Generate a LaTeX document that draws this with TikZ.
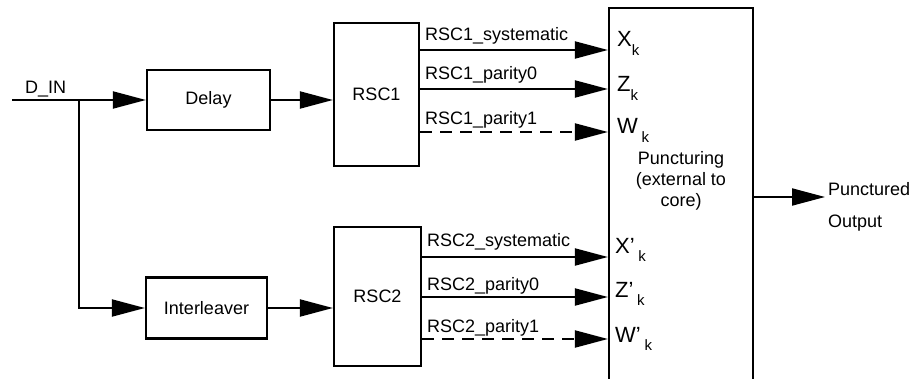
\documentclass[tikz,border=0pt]{standalone}
\usepackage{fontspec}
\setmainfont{Liberation Sans}
\usetikzlibrary{arrows.meta}
\newcommand{\subk}{\raisebox{-0.4em}{\fontsize{15}{15}\selectfont k}}
\begin{document}
\begin{tikzpicture}[x=1pt,y=-1pt,
  blk/.style={draw,line width=2.2pt,inner sep=0pt,font=\fontsize{18}{20}\selectfont},
  arr/.style={line width=2pt,-{Triangle[length=33pt,width=17pt]}},
  ln/.style={line width=2pt},
  dsh/.style={arr,dash pattern=on 12pt off 8pt},
  lbl/.style={anchor=base west,inner sep=0pt,font=\fontsize{18}{20}\selectfont},
  inl/.style={anchor=base west,inner sep=0pt,font=\fontsize{22}{24}\selectfont}]
\useasboundingbox (0,0) rectangle (920,379);
\clip (0,0) rectangle (920,379);
\node[blk,minimum width=123pt,minimum height=60pt] (delay) at (208.5,100) {Delay};
\node[blk,minimum width=121pt,minimum height=61pt] (inter) at (206.5,308) {Interleaver};
\node[blk,minimum width=85pt,minimum height=143pt] (rsc1) at (376.5,94.5) {RSC1};
\node[blk,minimum width=87pt,minimum height=139pt] (rsc2) at (377.5,296.5) {RSC2};
\node[blk,minimum width=144pt,minimum height=392pt] (punct) at (681,204) {};
\node[align=center,inner sep=0pt,font=\fontsize{18}{21}\selectfont] (ptext) at (681,181) {Puncturing\\(external to\\core)};
\coordinate (din) at (12,100);
\coordinate (j) at (79,100);
\node[lbl] (dinl) at (25,94) {D\_IN};
% inputs
\draw[arr] (din) -- (delay.west);
\draw[arr] (j) |- (inter.west);
\draw[arr] (delay.east) -- (delay.east -| rsc1.west);
\draw[arr] (inter.east) -- (inter.east -| rsc2.west);
% RSC1 outputs
\draw[arr] (rsc1.east |- 0,50) -- (punct.west |- 0,50);
\draw[arr] (rsc1.east |- 0,89) -- (punct.west |- 0,89);
\draw[dsh] (rsc1.east |- 0,132) -- (punct.west |- 0,132);
\node[lbl] (l1) at (425,41) {RSC1\_systematic};
\node[lbl] (l2) at (425,80) {RSC1\_parity0};
\node[lbl] (l3) at (425,125) {RSC1\_parity1};
% RSC2 outputs
\draw[arr] (rsc2.east |- 0,257) -- (punct.west |- 0,257);
\draw[arr] (rsc2.east |- 0,297) -- (punct.west |- 0,297);
\draw[dsh] (rsc2.east |- 0,339) -- (punct.west |- 0,339);
\node[lbl] (l4) at (427,247) {RSC2\_systematic};
\node[lbl] (l5) at (427,290) {RSC2\_parity0};
\node[lbl] (l6) at (427,332) {RSC2\_parity1};
% inner labels
\node[inl] (xk) at (617,47) {X\subk};
\node[inl] (zk) at (617,92) {Z\subk};
\node[inl] (wk) at (617,134) {W\,\subk};
\node[inl] (xpk) at (615,253) {X'\,\subk};
\node[inl] (zpk) at (615,297) {Z'\,\subk};
\node[inl] (wpk) at (615,342) {W'\,\subk};
% output
\coordinate (pout) at (825,197);
\draw[arr] (punct.east |- pout) -- (pout);
\node[lbl] (o1) at (828,196) {Punctured};
\node[lbl] (o2) at (828,228) {Output};
\end{tikzpicture}
\end{document}
